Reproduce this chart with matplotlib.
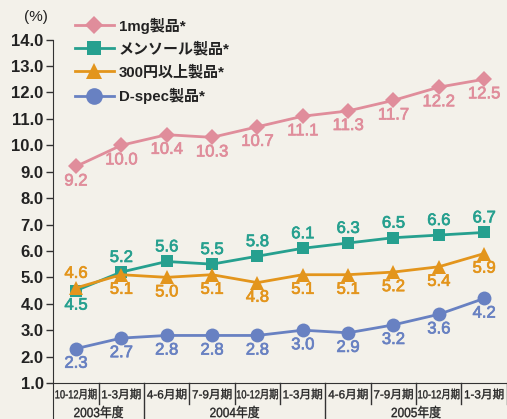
import numpy as np
import matplotlib.pyplot as plt
import matplotlib.patheffects as pe
from matplotlib import transforms
from matplotlib.textpath import TextPath
from matplotlib.patches import PathPatch
from matplotlib.font_manager import FontProperties

plt.rcParams['font.family'] = ['Liberation Sans', 'Noto Sans CJK JP']

# quarterly share (%) by product group
quarters = ['10-12月期', '1-3月期', '4-6月期', '7-9月期', '10-12月期',
            '1-3月期', '4-6月期', '7-9月期', '10-12月期', '1-3月期']
fiscal_years = ['2003年度', '2004年度', '2005年度']
year_spans = [(0, 1), (2, 5), (6, 9)]

series_names = ['1mg製品*', 'メンソール製品*', '300円以上製品*', 'D-spec製品*']
one_mg = [9.2, 10.0, 10.4, 10.3, 10.7, 11.1, 11.3, 11.7, 12.2, 12.5]
menthol = [4.5, 5.2, 5.6, 5.5, 5.8, 6.1, 6.3, 6.5, 6.6, 6.7]
over_300 = [4.6, 5.1, 5.0, 5.1, 4.8, 5.1, 5.1, 5.2, 5.4, 5.9]
d_spec = [2.3, 2.7, 2.8, 2.8, 2.8, 3.0, 2.9, 3.2, 3.6, 4.2]

# label placement: +1 above the point, -1 below
one_mg_pos = [-1] * 10
menthol_pos = [-1] + [1] * 9
over_300_pos = [1] + [-1] * 9
d_spec_pos = [-1] * 10

colors = ['#E08D9B', '#26A08F', '#E3951C', '#6881C2']
markers = ['D', 's', '^', 'o']
msizes = [8, 8.5, 10, 10]

DPI = 100
bg = '#F3F1EA'
fig = plt.figure(figsize=(5.07, 4.19), dpi=DPI, facecolor=bg)
ax = fig.add_axes([53.3 / 507, 36 / 419, 453.5 / 507, 383 / 419])
ax.set_facecolor(bg)


def fitted_text(x, y, s, size, max_w, color='#222222'):
    """Centered text at display (x, y), squeezed sideways to fit max_w pixels."""
    fp = FontProperties(family=['Liberation Sans', 'Noto Sans CJK JP'], size=size)
    tp = TextPath((0, 0), s, prop=fp)
    bb = tp.get_extents()
    k = DPI / 72
    sx = min(1.0, max_w / (bb.width * k))
    tr = (transforms.Affine2D()
          .translate(-(bb.x0 + bb.x1) / 2, -(bb.y0 + bb.y1) / 2)
          .scale(sx * k, k).translate(x, y))
    fig.add_artist(PathPatch(tp, transform=tr, facecolor=color,
                             edgecolor=color, lw=0.25))


x = np.arange(len(quarters))
data = [one_mg, menthol, over_300, d_spec]
positions = [one_mg_pos, menthol_pos, over_300_pos, d_spec_pos]
for vals, pos, name, c, m, ms in zip(data, positions, series_names, colors, markers, msizes):
    ax.plot(x, vals, color=c, lw=2, marker=m, markersize=ms,
            markeredgewidth=0, label=name, clip_on=False)
    for xi, v, p in zip(x, vals, pos):
        ax.annotate(f'{v:.1f}', (xi, v), xytext=(0, 10.5 * p),
                    textcoords='offset points', ha='center', va='center',
                    fontsize=12, color=c,
                    path_effects=[pe.withStroke(linewidth=0.5, foreground=c)])

ax.set_xlim(-0.5, 9.5)
ax.set_ylim(1.0, 15.5)
ax.set_yticks(np.arange(1, 15, 1.0))
ax.set_yticklabels([f'{v:.1f}' for v in np.arange(1, 15, 1.0)],
                   fontsize=12, fontweight='bold', color='#222222')
ax.tick_params(axis='y', direction='out', length=5, width=1, color='#333333', pad=2)
ax.set_xticks([])

for side in ['top', 'right']:
    ax.spines[side].set_visible(False)
ax.spines['left'].set_bounds(-1.4, 14.0)
ax.spines['left'].set_color('#333333')
ax.spines['bottom'].set_color('#333333')

# quarter / fiscal-year rows under the axis
H = 419
trans = transforms.blended_transform_factory(ax.transData, fig.transFigure)
for xi, q in enumerate(quarters):
    px = ax.transData.transform((xi, 1.0))[0]
    fitted_text(px, H - 394, q, 8.4, 41)
for b in np.arange(0.5, 10.0, 1.0):
    bottom = 0 if b in (1.5, 5.5) else 1 - 404 / H
    ax.plot([b, b], [1 - 383 / H, bottom], transform=trans, color='#333333',
            lw=1, clip_on=False)
for (a, b), yr in zip(year_spans, fiscal_years):
    px = ax.transData.transform(((a + b) / 2, 1.0))[0]
    fitted_text(px, H - 412, yr, 9.6, 49)

fig.text(36 / 507, 1 - 17 / H, '(%)', ha='center', va='center',
         fontsize=11, color='#222222')

leg = ax.legend(loc='upper left', bbox_to_anchor=(61 / 507, 1 - 4 / H),
                bbox_transform=fig.transFigure, frameon=False, markerscale=1.2,
                handlelength=2.6, handletextpad=0.35, labelspacing=0.55,
                prop={'size': 10.8, 'weight': 'bold'})
for t in leg.get_texts():
    t.set_color('#222222')

fig.savefig('out.png', dpi=DPI, facecolor=bg)
